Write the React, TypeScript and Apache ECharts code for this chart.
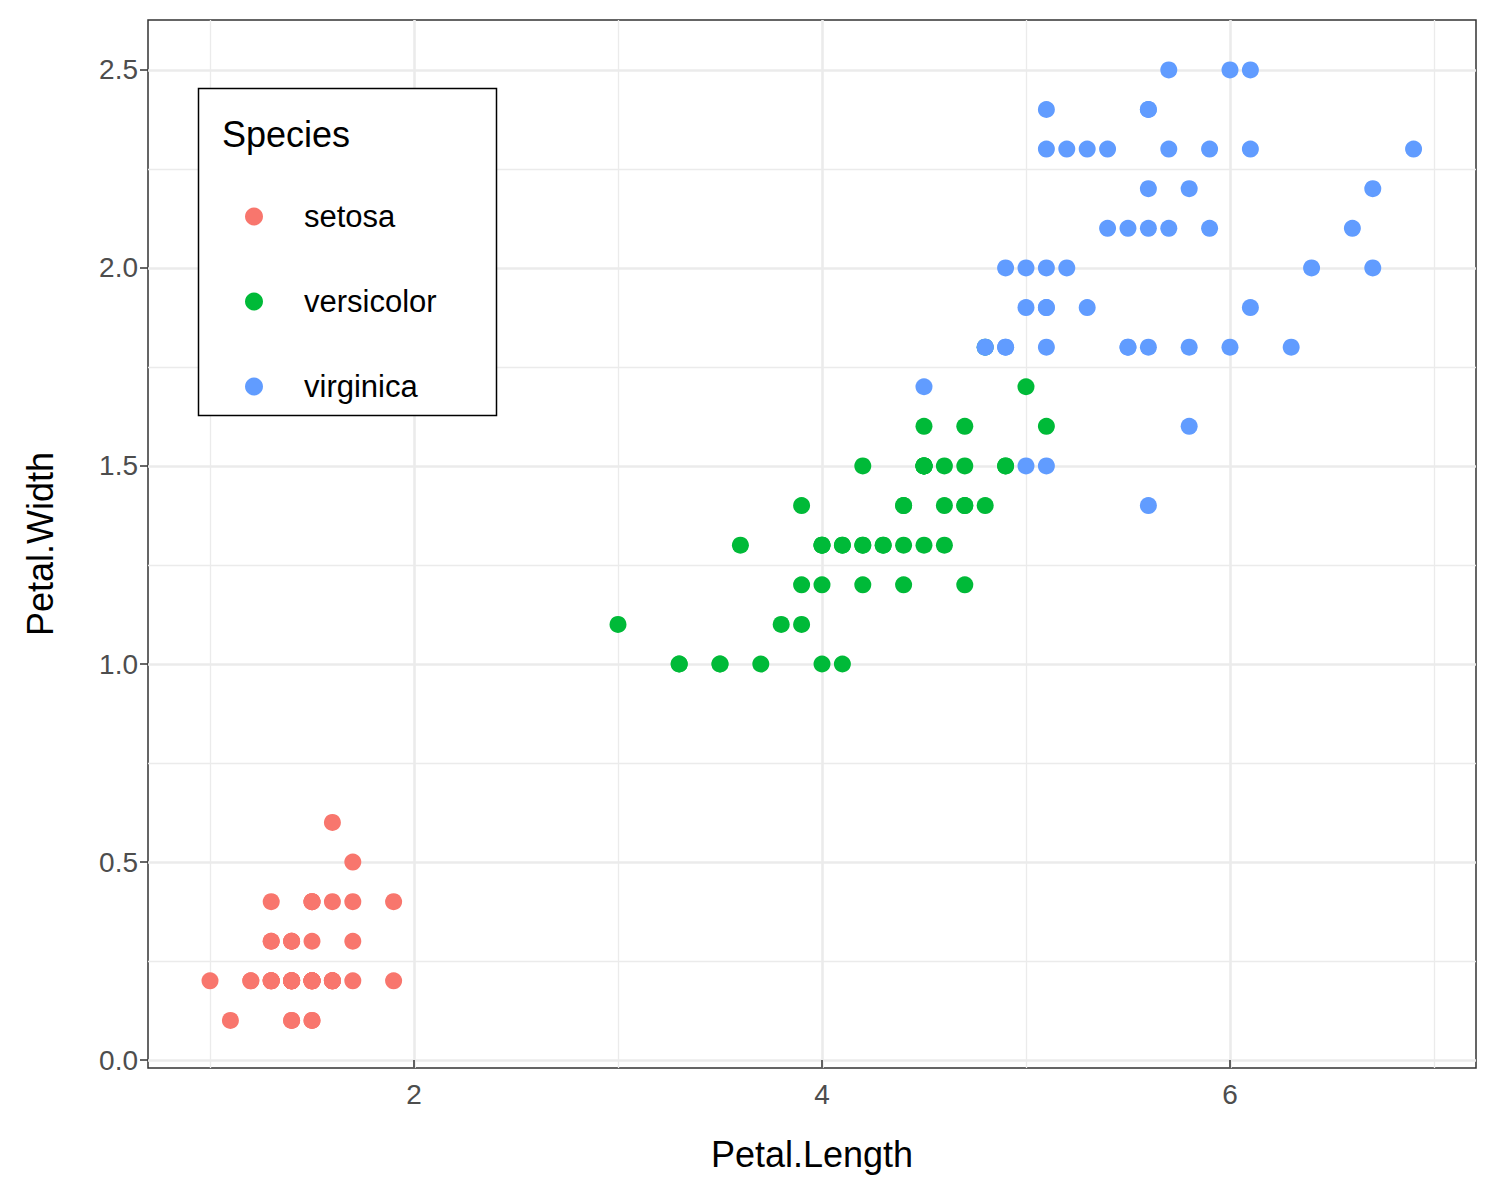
import React, { useEffect, useRef } from "react";
import * as echarts from "echarts";

const setosa = [[1.4,0.2],[1.4,0.2],[1.3,0.2],[1.5,0.2],[1.4,0.2],[1.7,0.4],[1.4,0.3],[1.5,0.2],[1.4,0.2],[1.5,0.1],[1.5,0.2],[1.6,0.2],[1.4,0.1],[1.1,0.1],[1.2,0.2],[1.5,0.4],[1.3,0.4],[1.4,0.3],[1.7,0.3],[1.5,0.3],[1.7,0.2],[1.5,0.4],[1.0,0.2],[1.7,0.5],[1.9,0.2],[1.6,0.2],[1.6,0.4],[1.5,0.2],[1.4,0.2],[1.6,0.2],[1.6,0.2],[1.5,0.4],[1.5,0.1],[1.4,0.2],[1.5,0.2],[1.2,0.2],[1.3,0.2],[1.4,0.1],[1.3,0.2],[1.5,0.2],[1.3,0.3],[1.3,0.3],[1.3,0.2],[1.6,0.6],[1.9,0.4],[1.4,0.3],[1.6,0.2],[1.4,0.2],[1.5,0.2],[1.4,0.2]];
const versicolor = [[4.7,1.4],[4.5,1.5],[4.9,1.5],[4.0,1.3],[4.6,1.5],[4.5,1.3],[4.7,1.6],[3.3,1.0],[4.6,1.3],[3.9,1.4],[3.5,1.0],[4.2,1.5],[4.0,1.0],[4.7,1.4],[3.6,1.3],[4.4,1.4],[4.5,1.5],[4.1,1.0],[4.5,1.5],[3.9,1.1],[4.8,1.8],[4.0,1.3],[4.9,1.5],[4.7,1.2],[4.3,1.3],[4.4,1.4],[4.8,1.4],[5.0,1.7],[4.5,1.5],[3.5,1.0],[3.8,1.1],[3.7,1.0],[3.9,1.2],[5.1,1.6],[4.5,1.5],[4.5,1.6],[4.7,1.5],[4.4,1.3],[4.1,1.3],[4.0,1.3],[4.4,1.2],[4.6,1.4],[4.0,1.2],[3.3,1.0],[4.2,1.3],[4.2,1.2],[4.2,1.3],[4.3,1.3],[3.0,1.1],[4.1,1.3]];
const virginica = [[6.0,2.5],[5.1,1.9],[5.9,2.1],[5.6,1.8],[5.8,2.2],[6.6,2.1],[4.5,1.7],[6.3,1.8],[5.8,1.8],[6.1,2.5],[5.1,2.0],[5.3,1.9],[5.5,2.1],[5.0,2.0],[5.1,2.4],[5.3,2.3],[5.5,1.8],[6.7,2.2],[6.9,2.3],[5.0,1.5],[5.7,2.3],[4.9,2.0],[6.7,2.0],[4.9,1.8],[5.7,2.1],[6.0,1.8],[4.8,1.8],[4.9,1.8],[5.6,2.1],[5.8,1.6],[6.1,1.9],[6.4,2.0],[5.6,2.2],[5.1,1.5],[5.6,1.4],[6.1,2.3],[5.6,2.4],[5.5,1.8],[4.8,1.8],[5.4,2.1],[5.6,2.4],[5.1,2.3],[5.1,1.9],[5.9,2.3],[5.7,2.5],[5.2,2.3],[5.0,1.9],[5.2,2.0],[5.4,2.3],[5.1,1.8]];

const xMajor = [2, 4, 6];
const xMinor = [1, 3, 5, 7];
const yMajor = [0, 0.5, 1.0, 1.5, 2.0, 2.5];
const yMinor = [0.25, 0.75, 1.25, 1.75, 2.25];

export default function App() {
  const ref = useRef<HTMLDivElement>(null);
  useEffect(() => {
    const chart = echarts.init(ref.current!, null, { renderer: "svg" });
    const font = "Liberation Sans, Arial, sans-serif";
    const ml = (vals: number[], axis: "xAxis" | "yAxis", w: number) =>
      vals.map((v) => ({ [axis]: v, lineStyle: { color: "#ebebeb", width: w, type: "solid" } }));
    const sym = (c: string) => ({ type: "scatter", symbolSize: 17, itemStyle: { color: c, opacity: 1 }, z: 5 });
    chart.setOption({
      animation: false,
      backgroundColor: "#fff",
      grid: { left: 148, top: 20, width: 1328, height: 1048, show: true, borderColor: "#333", borderWidth: 1.5, backgroundColor: "transparent" },
      xAxis: {
        type: "value", min: 0.696, max: 7.206,
        name: "Petal.Length", nameLocation: "middle", nameGap: 68,
        nameTextStyle: { fontSize: 36, color: "#000", fontFamily: font },
        axisLine: { show: false }, splitLine: { show: false },
        axisTick: { show: true, length: 8, customValues: xMajor, lineStyle: { color: "#333", width: 1.5 } },
        axisLabel: { customValues: xMajor, fontSize: 28, color: "#4d4d4d", fontFamily: font, margin: 12 },
      },
      yAxis: {
        type: "value", min: -0.02, max: 2.626,
        name: "Petal.Width", nameLocation: "middle", nameGap: 90,
        nameTextStyle: { fontSize: 36, color: "#000", fontFamily: font },
        axisLine: { show: false }, splitLine: { show: false },
        axisTick: { show: true, length: 8, customValues: yMajor, lineStyle: { color: "#333", width: 1.5 } },
        axisLabel: { customValues: yMajor, fontSize: 28, color: "#4d4d4d", fontFamily: font, margin: 10, formatter: (v: number) => v.toFixed(1) },
      },
      legend: {
        orient: "vertical", left: 240, top: 196, itemWidth: 18, itemHeight: 18, itemGap: 54, z: 20,
        icon: "circle", textStyle: { fontSize: 31, color: "#000", fontFamily: font, padding: [0, 0, 0, 36] },
        data: ["setosa", "versicolor", "virginica"],
      },
      graphic: [
        { type: "rect", shape: { x: 198.5, y: 88.5, width: 298, height: 327 }, style: { fill: "#fff", stroke: "#000", lineWidth: 1.5 }, z: 10 },
        { type: "text", x: 222, y: 116, style: { text: "Species", fontSize: 36, fill: "#000", fontFamily: font }, z: 11 },
      ],
      series: [
        {
          type: "line", data: [], silent: true, z: 0,
          markLine: { symbol: "none", silent: true, z: 0, label: { show: false },
            data: [...ml(xMinor, "xAxis", 1.3), ...ml(yMinor, "yAxis", 1.3), ...ml(xMajor, "xAxis", 2.6), ...ml(yMajor, "yAxis", 2.6)] },
        },
        { ...sym("#F8766D"), name: "setosa", data: setosa },
        { ...sym("#00BA38"), name: "versicolor", data: versicolor },
        { ...sym("#619CFF"), name: "virginica", data: virginica },
      ],
    });
    return () => chart.dispose();
  }, []);
  return <div ref={ref} style={{ width: 1500, height: 1200, position: "absolute", left: 0, top: 0 }} />;
}
